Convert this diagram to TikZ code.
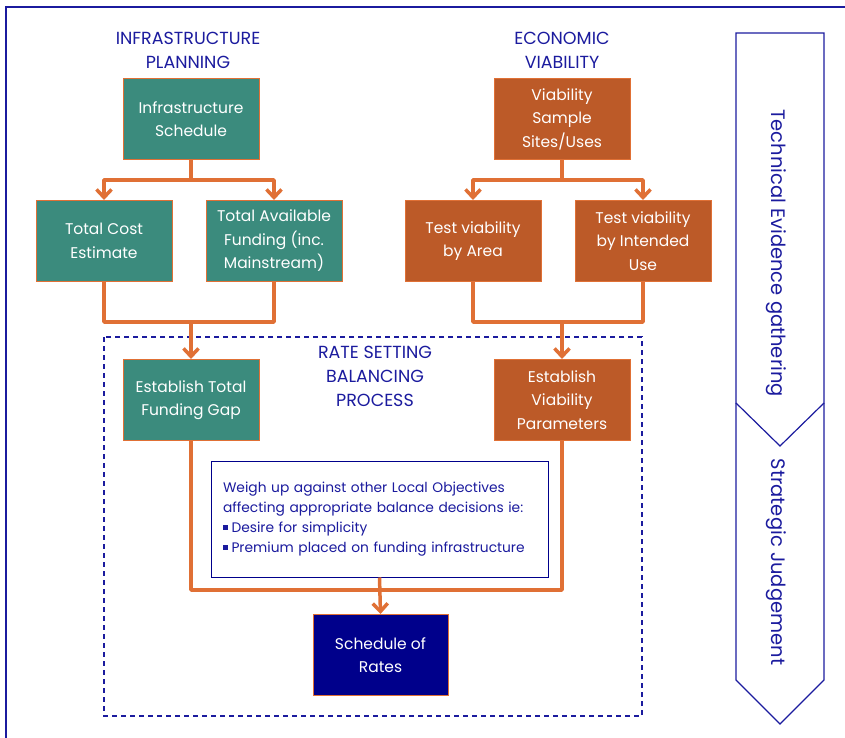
\documentclass[tikz,border=0pt]{standalone}
\usepackage{fontspec}
\setmainfont{Poppins}
\usetikzlibrary{arrows.meta, positioning}

\definecolor{navyblue}{HTML}{1B1B9E}
\definecolor{darknavy}{HTML}{00008B}
\definecolor{tealbox}{HTML}{3B8B7D}
\definecolor{rustbox}{HTML}{BC5A28}
\definecolor{orangeline}{HTML}{E07035}

\newcommand{\sqbullet}{\raisebox{2.5pt}{\rule{4.5pt}{4.5pt}}\hspace{4pt}}

\begin{document}
\begin{tikzpicture}[
    x=1pt, y=-1pt,
    every node/.style={font=\fontsize{15.5}{23.5}\selectfont, align=center},
    stepbox/.style={rectangle, draw=orangeline, line width=1pt,
        minimum width=136pt, minimum height=81pt, inner xsep=2pt, text=white},
    infra/.style={stepbox, fill=tealbox},
    econ/.style={stepbox, fill=rustbox},
    heading/.style={text=navyblue, font=\fontsize{17.5}{24}\selectfont},
    link/.style={draw=orangeline, line width=3.5pt, line join=round},
    arr/.style={link, -{Straight Barb[length=8pt, width=15pt]}}
]
\useasboundingbox (0,0) rectangle (845,738);

% frame
\draw[navyblue, line width=1.2pt] (845,7) -- (6,7) -- (6,738);

% headings
\node[heading] (infhead) at (188,50) {INFRASTRUCTURE\\PLANNING};
\node[heading] (ecohead) at (562,50) {ECONOMIC\\VIABILITY};

% infrastructure side
\node[infra] (infsched) at (191,119) {Infrastructure\\Schedule};
\node[infra] (costest) at (104,241) {Total Cost\\Estimate};
\node[infra] (funding) at (274,241) {Total Available\\Funding (inc.\\Mainstream)};

% viability side
\node[econ] (viasites) at (562,119) {Viability\\Sample\\Sites/Uses};
\node[econ] (testarea) at (473,241) {Test viability\\by Area};
\node[econ] (testuse) at (643,241) {Test viability\\by Intended\\Use};

% balancing process
\draw[navyblue, line width=1.2pt, dash pattern=on 5pt off 4pt] (104,337) rectangle (642,716);
\node[heading] (ratehead) at (375,376) {RATE SETTING\\BALANCING\\PROCESS};

\node[infra] (fundgap) at (191,400) {Establish Total\\Funding Gap};
\node[econ] (viaparams) at (562,400) {Establish\\Viability\\Parameters};

\node[draw=darknavy, line width=1pt, fill=white, text=navyblue, align=left,
    text width=313pt, inner xsep=12pt, minimum height=116pt,
    font=\fontsize{13.8}{20}\selectfont] (weighup) at (379.5,519)
    {Weigh up against other Local Objectives\\
     affecting appropriate balance decisions ie:\\
     \sqbullet Desire for simplicity\\
     \sqbullet Premium placed on funding infrastructure};

\node[stepbox, fill=darknavy, minimum width=135pt] (rates) at (380.5,655) {Schedule of\\Rates};

% connectors
\coordinate (j1) at (191,180);
\coordinate (j2) at (191,322);
\coordinate (j3) at (562,180);
\coordinate (j4) at (562,322);
\coordinate (j5) at (380,590);

\draw[link] (infsched.south) -- (j1);
\draw[arr] (j1) -| (costest.north);
\draw[arr] (j1) -| (funding.north);
\draw[link] (viasites.south) -- (j3);
\draw[arr] (j3) -| (testarea.north);
\draw[arr] (j3) -| (testuse.north);

\draw[link] (costest.south) |- (j2) -| (funding.south);
\draw[arr] (j2) -- (fundgap.north);
\draw[link] (testarea.south) |- (j4) -| (testuse.south);
\draw[arr] (j4) -- (viaparams.north);

\draw[link] (fundgap.south) |- (j5) -| (viaparams.south);
\draw[arr] (weighup.south) -- (rates.north);

% stages
\draw[navyblue, line width=1.2pt] (736,33) -- (824,33) -- (824,403) -- (780,446) -- (736,403) -- cycle;
\draw[navyblue, line width=1.2pt] (824,403) -- (824,680) -- (780,724) -- (736,680) -- (736,403);
\node[heading, rotate=-90, font=\fontsize{19.5}{22}\selectfont] (techev) at (776,253) {Technical Evidence gathering};
\node[heading, rotate=-90, font=\fontsize{19.5}{22}\selectfont] (stratj) at (776,562) {Strategic Judgement};

\end{tikzpicture}
\end{document}
